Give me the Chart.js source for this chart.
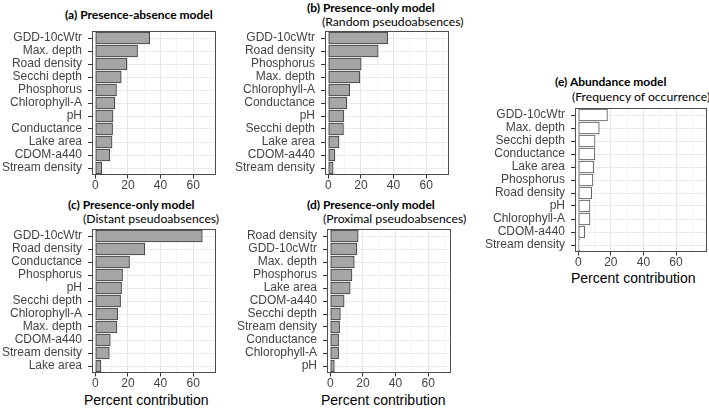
<!DOCTYPE html>
<html>
<head>
<meta charset="utf-8">
<script src="https://cdn.jsdelivr.net/npm/chart.js@4"></script>
<style>
  body { margin: 0; background: #fff; }
  #wrap { position: relative; width: 709px; height: 409px; overflow: hidden; background: #fff; }
  canvas { position: absolute; }
  .ttl { position: absolute; font-family: Lato, sans-serif; font-weight: bold; font-size: 12px; line-height: 14px; white-space: nowrap; color: #000; }
  .sub { position: absolute; font-family: Lato, sans-serif; font-size: 12.2px; line-height: 14px; white-space: nowrap; color: #000; }
  .axt { position: absolute; font-family: 'Liberation Sans', Arial, sans-serif; font-size: 14px; line-height: 16px; white-space: nowrap; color: #000; }
</style>
</head>
<body>
<div id="wrap">
  <div class="ttl" style="left:65px; top:8px;">(a) Presence-absence model</div>
  <div class="ttl" style="left:307px; top:1px;">(b) Presence-only model</div>
  <div class="sub" style="left:322px; top:15px;">(Random pseudoabsences)</div>
  <div class="ttl" style="left:68px; top:198px;">(c) Presence-only model</div>
  <div class="sub" style="left:83px; top:212px;">(Distant pseudoabsences)</div>
  <div class="ttl" style="left:307px; top:198px;">(d) Presence-only model</div>
  <div class="sub" style="left:323px; top:212px;">(Proximal pseudoabsences)</div>
  <div class="ttl" style="left:555px; top:75px;">(e) Abundance model</div>
  <div class="sub" style="left:572px; top:90px;">(Frequency of occurrence)</div>

  <div class="axt" style="left:84px; top:392px;">Percent contribution</div>
  <div class="axt" style="left:321px; top:392px;">Percent contribution</div>
  <div class="axt" style="left:571px; top:270px;">Percent contribution</div>

  <canvas id="chartA" width="219" height="173" style="left:0px; top:23px;"></canvas>
  <canvas id="chartB" width="247" height="173" style="left:205px; top:23px;"></canvas>
  <canvas id="chartC" width="219" height="173" style="left:0px; top:221px;"></canvas>
  <canvas id="chartD" width="247" height="173" style="left:207px; top:221px;"></canvas>
  <canvas id="chartE" width="254" height="173" style="left:455px; top:100px;"></canvas>
</div>
<script>
// (a) presence-absence
const labelsA = ["GDD-10cWtr", "Max. depth", "Road density", "Secchi depth", "Phosphorus", "Chlorophyll-A", "pH", "Conductance", "Lake area", "CDOM-a440", "Stream density"];
const valuesA = [33.4, 25.9, 19.4, 15.9, 13.0, 12.0, 10.9, 10.6, 10.3, 8.9, 3.9];

// (b) presence-only, random pseudoabsences
const labelsB = ["GDD-10cWtr", "Road density", "Phosphorus", "Max. depth", "Chlorophyll-A", "Conductance", "pH", "Secchi depth", "Lake area", "CDOM-a440", "Stream density"];
const valuesB = [36.5, 30.6, 20.2, 19.4, 13.2, 11.4, 9.4, 9.3, 6.6, 4.1, 3.0];

// (c) presence-only, distant pseudoabsences
const labelsC = ["GDD-10cWtr", "Road density", "Conductance", "Phosphorus", "pH", "Secchi depth", "Chlorophyll-A", "Max. depth", "CDOM-a440", "Stream density", "Lake area"];
const valuesC = [65.6, 30.4, 21.0, 16.7, 16.1, 15.5, 13.7, 13.3, 9.2, 8.6, 3.5];

// (d) presence-only, proximal pseudoabsences
const labelsD = ["Road density", "GDD-10cWtr", "Max. depth", "Phosphorus", "Lake area", "CDOM-a440", "Secchi depth", "Stream density", "Conductance", "Chlorophyll-A", "pH"];
const valuesD = [17.1, 16.3, 14.7, 13.3, 12.2, 8.5, 6.2, 5.7, 5.1, 5.1, 2.5];

// (e) abundance, frequency of occurrence
const labelsE = ["GDD-10cWtr", "Max. depth", "Secchi depth", "Conductance", "Lake area", "Phosphorus", "Road density", "pH", "Chlorophyll-A", "CDOM-a440", "Stream density"];
const valuesE = [17.9, 12.9, 10.3, 10.2, 9.4, 9.0, 8.2, 7.2, 7.2, 3.9, 1.0];

const xTickStep = 10;   // minor grid every 10
const xLabelStep = 20;  // labelled ticks 0, 20, 40, 60

Chart.defaults.font.family = "'Liberation Sans', Arial, sans-serif";
Chart.defaults.animation = false;

// ggplot-style panel border round the plot area
const panelBorder = {
  id: 'panelBorder',
  afterDatasetsDraw(chart) {
    const {ctx, chartArea: a} = chart;
    ctx.save();
    ctx.strokeStyle = '#4d4d4d';
    ctx.lineWidth = 1;
    const l = Math.round(a.left), t = Math.floor(a.top);
    ctx.strokeRect(l + 0.5, t + 0.5, Math.round(a.right) - l - 1, Math.round(a.bottom) - t - 1);
    ctx.restore();
  }
};

function makePanel(id, labels, values, opt) {
  const ctx = document.getElementById(id);
  new Chart(ctx, {
    type: 'bar',
    data: {
      labels: labels,
      datasets: [{
        data: values,
        backgroundColor: opt.fill,
        borderColor: opt.edge,
        borderWidth: 1,
        borderSkipped: false,
        barThickness: 12
      }]
    },
    plugins: [panelBorder],
    options: {
      responsive: false,
      indexAxis: 'y',
      // half-pixel top so the 12px bars land on whole pixels
      layout: { padding: { top: 8.5, right: opt.padRight, left: 0, bottom: 0 } },
      plugins: { legend: { display: false }, tooltip: { enabled: false } },
      scales: {
        y: {
          afterFit: (s) => { s.width = opt.yWidth; s.paddingTop = 0; s.paddingBottom = 0; },
          border: { display: false },
          grid: { offset: false, color: '#ebebeb', tickColor: '#333333', tickLength: 4 },
          ticks: { autoSkip: false, color: '#444444', font: { size: 12 }, padding: 6 }
        },
        x: {
          min: -2,
          max: opt.xMax,
          afterFit: (s) => { s.height = 21.5; s.paddingLeft = 0; s.paddingRight = 0; },
          border: { display: false },
          grid: {
            color: (c) => (c.tick && c.tick.value % xLabelStep === 0) ? '#e6e6e6' : '#f4f4f4',
            tickColor: (c) => (c.tick && c.tick.value % xLabelStep === 0) ? '#333333' : 'rgba(0,0,0,0)',
            tickLength: 4
          },
          ticks: {
            stepSize: xTickStep,
            includeBounds: false,
            autoSkip: false,
            maxRotation: 0,
            color: '#444444',
            font: { size: 12 },
            padding: 0,
            callback: (v) => v % xLabelStep === 0 ? v : ''
          }
        }
      }
    }
  });
}

const greyBar = { fill: '#a6a6a6', edge: '#3a3a3a' };
const whiteBar = { fill: '#ffffff', edge: '#555555' };

makePanel('chartA', labelsA, valuesA, { ...greyBar, yWidth: 92, xMax: 74, padRight: 3 });
makePanel('chartB', labelsB, valuesB, { ...greyBar, yWidth: 120, xMax: 74, padRight: 3 });
makePanel('chartC', labelsC, valuesC, { ...greyBar, yWidth: 92, xMax: 74, padRight: 3 });
makePanel('chartD', labelsD, valuesD, { ...greyBar, yWidth: 120, xMax: 74, padRight: 3 });
makePanel('chartE', labelsE, valuesE, { ...whiteBar, yWidth: 120, xMax: 79, padRight: 2 });
</script>
</body>
</html>
